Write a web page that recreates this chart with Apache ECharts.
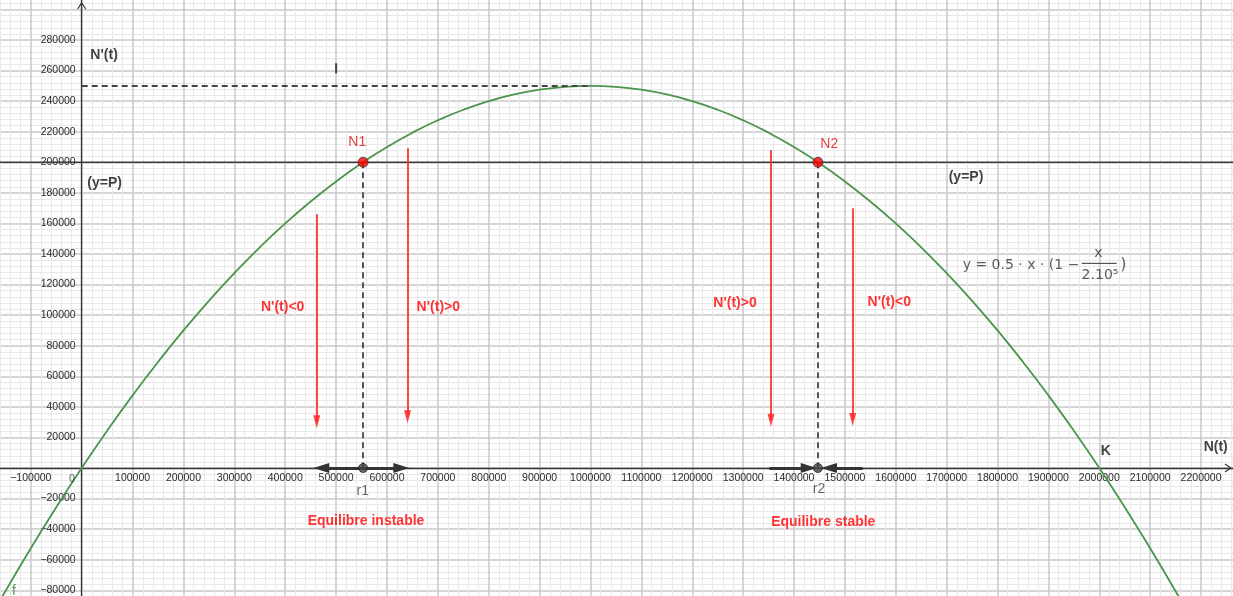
<!DOCTYPE html>
<html><head><meta charset="utf-8">
<script src="https://cdn.jsdelivr.net/npm/echarts/dist/echarts.min.js"></script>
<style>html,body{margin:0;padding:0;background:#fff}#c{width:1233px;height:596px}</style>
</head><body><div id="c"></div>
<script>
// ---- data ----
const curveX = [-200000,-150000,-100000,-50000,0,50000,100000,150000,200000,250000,300000,350000,400000,450000,500000,550000,600000,650000,700000,750000,800000,850000,900000,950000,1000000,1050000,1100000,1150000,1200000,1250000,1300000,1350000,1400000,1450000,1500000,1550000,1600000,1650000,1700000,1750000,1800000,1850000,1900000,1950000,2000000,2050000,2100000,2150000,2200000,2250000,2300000];
const curveY = [-110000,-80625,-52500,-25625,0,24375,47500,69375,90000,109375,127500,144375,160000,174375,187500,199375,210000,219375,227500,234375,240000,244375,247500,249375,250000,249375,247500,244375,240000,234375,227500,219375,210000,199375,187500,174375,160000,144375,127500,109375,90000,69375,47500,24375,0,-25625,-52500,-80625,-110000,-140625,-172500];
const xTickLabels = [-100000,100000,200000,300000,400000,500000,600000,700000,800000,900000,1000000,1100000,1200000,1300000,1400000,1500000,1600000,1700000,1800000,1900000,2000000,2100000,2200000];
const yTickLabels = [-80000,-60000,-40000,-20000,20000,40000,60000,80000,100000,120000,140000,160000,180000,200000,220000,240000,260000,280000];
const levelP = 200000;
const peakX = 1000000, peakY = 250000;
const eqX = [553000, 1447000];
// red vertical arrows (line end = arrowhead centre)
const redArrowX = [461900, 640300, 1354700, 1515300];
const redArrowTop = [166000, 209200, 208000, 169900];
const redArrowEnd = [30300, 33500, 31300, 31800];
// black arrows on the N(t) axis [from, arrowhead centre]
const blackArrowFrom = [552300, 552300, 1351400, 1535000];
const blackArrowTo = [470900, 628200, 1428900, 1468700];
// text annotations
const noteText = ["N'(t)", '(y=P)', '(y=P)', 'K', 'N(t)', 'f', 'N1', 'N2', 'r1', 'r2', "N'(t)<0", "N'(t)>0", "N'(t)>0", "N'(t)<0", 'Equilibre instable', 'Equilibre stable', '0'];
const noteX = [44000, 45000, 1738000, 2013000, 2228800, -133000, 541700, 1469300, 552300, 1449100, 395000, 700900, 1284000, 1587200, 558800, 1457500, -19060];
const noteY = [270000, 186500, 190600, 11100, 13900, -80300, 213500, 212000, -14850, -13950, 105100, 105100, 108150, 108800, -34700, -35500, -7200];
const noteStyle = ['blk','blk','blk','blk','blk','grn','redn','redn','gry','gry','red','red','red','red','red','red','tick'];
// formula pieces
const formulaMain = 'y = 0.5 · x · (1 −';
const formulaNum = 'x';
const formulaDen = '2.10⁵';

// ---- chart ----
const styles = {
  blk: {color:'#111', fontWeight:'bold', fontSize:14},
  grn: {color:'#2e7d32', fontSize:14},
  redn: {color:'#e01010', fontSize:14},
  gry: {color:'#444', fontSize:14},
  red: {color:'#ff0000', fontWeight:'bold', fontSize:14},
  tick: {color:'#333', fontSize:10.5}
};
const fmt = v => (v < 0 ? '\u2212' + Math.abs(v) : String(v));
const notes = noteText.map((t,i)=>({
  value:[noteX[i], noteY[i]], t:t,
  label:Object.assign({show:true, position:'inside', align:'center', verticalAlign:'middle', fontFamily:'Liberation Sans'}, styles[noteStyle[i]])
}));
const mathFont = {fontFamily:'DejaVu Sans', color:'#333', fontSize:14, fontWeight:'normal'};
notes.push({value:[1731500,132800], t:formulaMain, label:Object.assign({show:true, position:'inside', align:'left', verticalAlign:'middle'}, mathFont)});
notes.push({value:[1998000,140700], t:formulaNum, label:Object.assign({show:true, position:'inside', align:'center', verticalAlign:'middle'}, mathFont)});
notes.push({value:[2001400,125800], t:formulaDen, label:Object.assign({show:true, position:'inside', align:'center', verticalAlign:'middle'}, mathFont)});
notes.push({value:[2047200,132800], t:')', label:Object.assign({show:true, position:'inside', align:'center', verticalAlign:'middle'}, mathFont, {fontSize:16})});

// grid placement: x=-200000 .. 2300000, y=-100000 .. 320000
const GL = -20.06, GR = -18.94, GT = -21.12, GB = -24.85;
const H = 596;
const zeroYpx = 468, zeroXpx = 81.7;

const chart = echarts.init(document.getElementById('c'), null, {renderer:'canvas'});
const axisFont = {fontFamily:'Liberation Sans', fontSize:10.5, color:'#2b2b2b'};
chart.setOption({
  animation:false,
  backgroundColor:'#fff',
  grid:{left:GL, right:GR, top:GT, bottom:GB, containLabel:false, outerBoundsMode:'none'},
  xAxis:{type:'value', min:-200000, max:2300000, interval:100000, position:'bottom',
    offset: -((H - GB) - zeroYpx),
    axisLine:{onZero:false, lineStyle:{color:'#333', width:1.3}},
    axisTick:{show:false},
    axisLabel:Object.assign({margin:5, formatter:v=> xTickLabels.includes(v)? fmt(v):''}, axisFont),
    splitLine:{show:true, lineStyle:{color:'#c8c8c8', width:1.5}},
    minorTick:{show:false, splitNumber:5},
    minorSplitLine:{show:true, lineStyle:{color:'#e8e8e8', width:1}}
  },
  yAxis:{type:'value', min:-100000, max:320000, interval:20000, position:'left',
    offset: -(zeroXpx - GL),
    axisLine:{onZero:false, lineStyle:{color:'#333', width:1.3}},
    axisTick:{show:false},
    axisLabel:Object.assign({margin:6, padding:[3,0,0,0], formatter:v=> yTickLabels.includes(v)? fmt(v):''}, axisFont),
    splitLine:{show:true, lineStyle:{color:'#c8c8c8', width:1.5}},
    minorTick:{show:false, splitNumber:5},
    minorSplitLine:{show:true, lineStyle:{color:'#e8e8e8', width:1}}
  },
  series:[
    {type:'line', name:'f', data:curveX.map((x,i)=>[x,curveY[i]]), smooth:true, symbol:'none',
     lineStyle:{color:'#4b944b', width:1.8}, z:4},
    {type:'line', name:'P', data:[[-200000,levelP],[2300000,levelP]], symbol:'none',
     lineStyle:{color:'#3a3a3a', width:1.5}, z:3,
     markLine:{silent:true, symbol:['none','none'], label:{show:false},
       lineStyle:{color:'#444', width:1.8, type:[6,4]},
       data:[
         [{coord:[0,peakY]},{coord:[peakX,peakY]}],
         [{coord:[eqX[0],levelP]},{coord:[eqX[0],0]}],
         [{coord:[eqX[1],levelP]},{coord:[eqX[1],0]}]
       ]}
    },
    {type:'line', name:'redArrows', data:[], z:5,
     markLine:{silent:true, symbol:['none','triangle'], symbolSize:[7,13], label:{show:false},
       lineStyle:{color:'rgba(255,40,40,0.85)', width:2, type:'solid'},
       data:redArrowX.map((x,i)=>[{coord:[x,redArrowTop[i]]},{coord:[x,redArrowEnd[i]]}])}
    },
    {type:'line', name:'blackArrows', data:[], z:5,
     markLine:{silent:true, symbol:['none','triangle'], symbolSize:[10,16], label:{show:false},
       lineStyle:{color:'#333', width:3, type:'solid'},
       data:blackArrowFrom.map((x,i)=>[{coord:[x,0]},{coord:[blackArrowTo[i],0]}])}
    },
    {type:'line', name:'I', data:[[500000,258200],[500000,264800]], symbol:'none', lineStyle:{color:'#444', width:2}, z:5},
    {type:'line', name:'yArrow', data:[[-7860,300300],[0,304400],[7860,300300]], symbol:'none', lineStyle:{color:'#333', width:1.2}, z:5},
    {type:'line', name:'xArrow', data:[[2247000,2600],[2258800,0],[2247000,-2600]], symbol:'none', lineStyle:{color:'#333', width:1.2}, z:5},
    {type:'line', name:'fracBar', data:[[1965400,133900],[2034200,133900]], symbol:'none', lineStyle:{color:'#333', width:1}, z:5},
    {type:'scatter', name:'roots', data:eqX.map(x=>[x,0]), symbolSize:9, z:7,
     itemStyle:{color:'#444', borderColor:'#222', borderWidth:1}},
    {type:'scatter', name:'eq', data:eqX.map(x=>[x,levelP]), symbolSize:10, z:7,
     itemStyle:{color:'#ff0000', borderColor:'#333', borderWidth:1}},
    {type:'scatter', name:'notes', data:notes, symbolSize:1, z:8,
     itemStyle:{color:'transparent'},
     label:{show:true, formatter:p=>p.data.t}}
  ]
});
</script></body></html>
